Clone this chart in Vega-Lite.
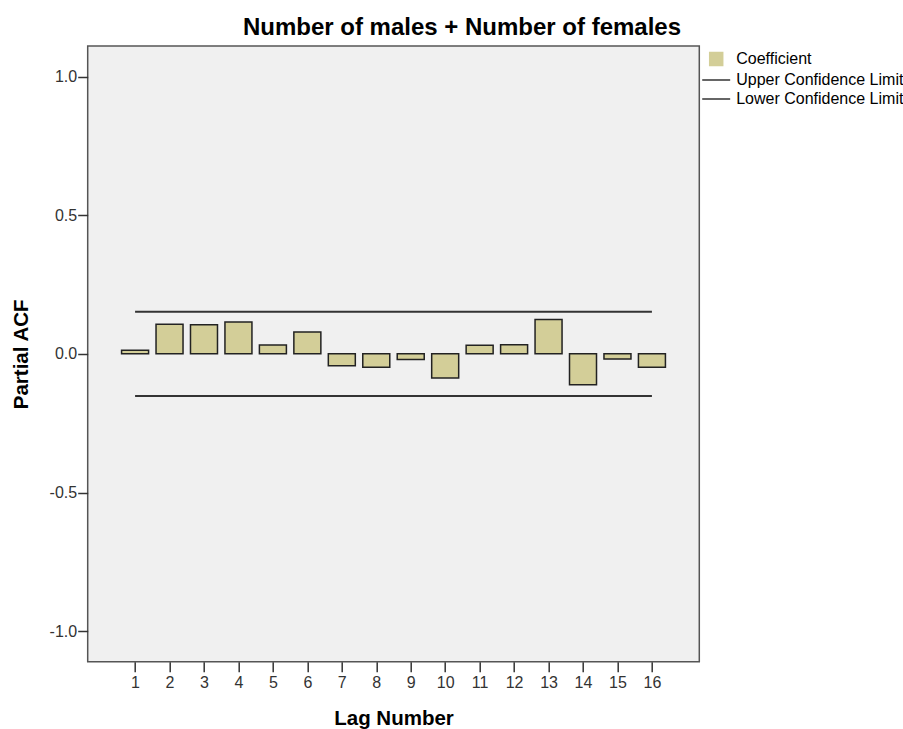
{
  "$schema": "https://vega.github.io/schema/vega-lite/v6.json",
  "width": 611.6,
  "height": 615.7,
  "autosize": {"type": "none"},
  "padding": {"left": 87.7, "top": 46, "right": 203.7, "bottom": 67.3},
  "background": "white",
  "title": {
    "text": "Number of males + Number of females",
    "font": "Liberation Sans",
    "fontSize": 24,
    "fontWeight": "bold",
    "color": "black",
    "anchor": "middle",
    "frame": "group",
    "dx": 68.5,
    "offset": 6
  },
  "config": {
    "view": {"fill": "#f0f0f0", "stroke": "#555555", "strokeWidth": 1.5},
    "axis": {
      "domain": false,
      "grid": false,
      "tickColor": "#333333",
      "tickWidth": 1.5,
      "tickSize": 10,
      "labelFont": "Liberation Sans",
      "labelFontSize": 16,
      "labelColor": "#333333",
      "titleFont": "Liberation Sans",
      "titleFontSize": 20.5,
      "titleFontWeight": "bold",
      "titleColor": "black"
    },
    "legend": {
      "title": null,
      "orient": "none",
      "legendX": 620.5,
      "legendY": 5,
      "labelFont": "Liberation Sans",
      "labelFontSize": 16,
      "labelColor": "black",
      "labelLimit": 400,
      "labelOffset": 12,
      "rowPadding": 3,
      "symbolSize": 169
    }
  },
  "datasets": {
    "acf": [
      {"lag": 1, "pacf": 0.013},
      {"lag": 2, "pacf": 0.107},
      {"lag": 3, "pacf": 0.105},
      {"lag": 4, "pacf": 0.115},
      {"lag": 5, "pacf": 0.032},
      {"lag": 6, "pacf": 0.079},
      {"lag": 7, "pacf": -0.043},
      {"lag": 8, "pacf": -0.048},
      {"lag": 9, "pacf": -0.020},
      {"lag": 10, "pacf": -0.087},
      {"lag": 11, "pacf": 0.031},
      {"lag": 12, "pacf": 0.033},
      {"lag": 13, "pacf": 0.124},
      {"lag": 14, "pacf": -0.111},
      {"lag": 15, "pacf": -0.019},
      {"lag": 16, "pacf": -0.048}
    ],
    "limits": [
      {"series": "Upper Confidence Limit", "start": 1, "end": 16, "value": 0.152},
      {"series": "Lower Confidence Limit", "start": 1, "end": 16, "value": -0.152}
    ]
  },
  "layer": [
    {
      "data": {"name": "acf"},
      "mark": {"type": "bar", "size": 27, "stroke": "#222222", "strokeWidth": 1.5},
      "encoding": {
        "x": {
          "field": "lag",
          "type": "quantitative",
          "scale": {"domain": [-0.375, 17.375], "nice": false, "zero": false, "padding": 0},
          "axis": {
            "values": [1, 2, 3, 4, 5, 6, 7, 8, 9, 10, 11, 12, 13, 14, 15, 16],
            "format": "d",
            "title": "Lag Number",
            "labelPadding": 3,
            "titlePadding": 18
          }
        },
        "y": {
          "field": "pacf",
          "type": "quantitative",
          "scale": {"domain": [-1.11, 1.11], "nice": false},
          "axis": {
            "values": [-1, -0.5, 0, 0.5, 1],
            "labelExpr": "(datum.value < 0 ? '-' : '') + format(abs(datum.value), '.1f')",
            "title": "Partial ACF",
            "labelPadding": 1,
            "titlePadding": 18
          }
        },
        "y2": {"datum": 0},
        "color": {
          "datum": "Coefficient",
          "scale": {
            "domain": ["Coefficient", "Upper Confidence Limit", "Lower Confidence Limit"],
            "range": ["#d3ce98", "#333333", "#333333"]
          },
          "legend": {
            "title": null,
            "encode": {
              "symbols": {
                "update": {
                  "shape": {"signal": "datum.value === 'Coefficient' ? 'square' : 'M-2.15,0H2.15'"},
                  "size": {"value": 169},
                  "fill": {"signal": "datum.value === 'Coefficient' ? '#d3ce98' : 'transparent'"},
                  "stroke": {"signal": "datum.value === 'Coefficient' ? '#222222' : '#333333'"},
                  "strokeWidth": {"value": 1.5},
                  "opacity": {"value": 1},
                  "fillOpacity": {"value": 1},
                  "strokeOpacity": {"value": 1}
                }
              }
            }
          }
        }
      }
    },
    {
      "mark": {"type": "rule", "color": "black", "strokeWidth": 1.6},
      "encoding": {"y": {"datum": 0}}
    },
    {
      "data": {"name": "limits"},
      "mark": {"type": "rule", "strokeWidth": 2},
      "encoding": {
        "x": {"field": "start", "type": "quantitative"},
        "x2": {"field": "end"},
        "y": {"field": "value", "type": "quantitative"},
        "color": {
          "field": "series",
          "type": "nominal",
          "legend": {
            "title": null,
            "encode": {
              "symbols": {
                "update": {
                  "shape": {"signal": "datum.value === 'Coefficient' ? 'square' : 'M-2.15,0H2.15'"},
                  "size": {"value": 169},
                  "fill": {"signal": "datum.value === 'Coefficient' ? '#d3ce98' : 'transparent'"},
                  "stroke": {"signal": "datum.value === 'Coefficient' ? '#222222' : '#333333'"},
                  "strokeWidth": {"value": 1.5},
                  "opacity": {"value": 1},
                  "fillOpacity": {"value": 1},
                  "strokeOpacity": {"value": 1}
                }
              }
            }
          }
        }
      }
    }
  ]
}
